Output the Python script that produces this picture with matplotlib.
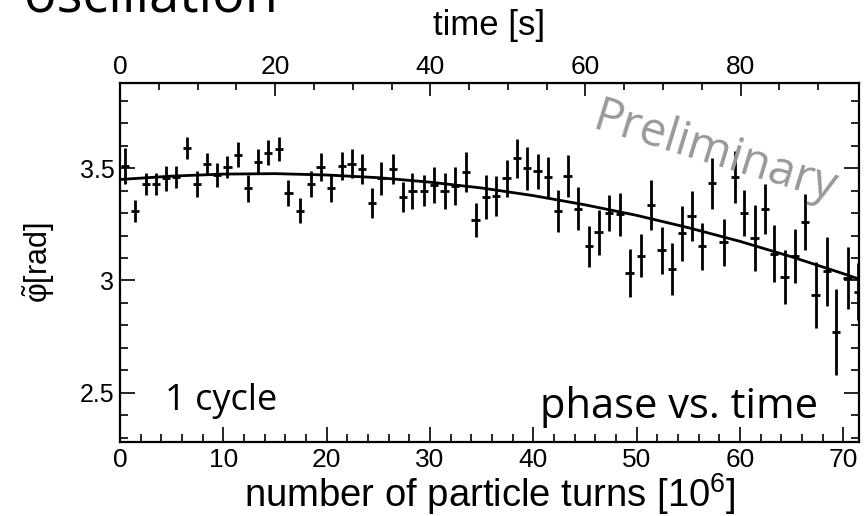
import numpy as np
import matplotlib.pyplot as plt
from matplotlib.ticker import MultipleLocator, FixedLocator, FormatStrFormatter

# measured phase per turn bin (turns in units of 1e6)
turns = [0.5, 1.45, 2.5, 3.5, 4.45, 5.4, 6.5, 7.45, 8.4, 9.4, 10.4, 11.4, 12.4, 13.35,
         14.3, 15.4, 16.3, 17.4, 18.5, 19.4, 20.4, 21.5, 22.4, 23.4, 24.4, 25.3, 26.4,
         27.4, 28.3, 29.4, 30.4, 31.4, 32.4, 33.5, 34.4, 35.4, 36.4, 37.4, 38.4, 39.4,
         40.4, 41.4, 42.4, 43.3, 44.3, 45.4, 46.3, 47.3, 48.4, 49.3, 50.4, 51.4, 52.4,
         53.4, 54.4, 55.3, 56.3, 57.3, 58.4, 59.5, 60.4, 61.4, 62.4, 63.3, 64.3, 65.3,
         66.3, 67.3, 68.4, 69.3, 70.4, 71.4]
phase = [3.51, 3.31, 3.43, 3.43, 3.455, 3.46, 3.59, 3.43, 3.52, 3.47, 3.505, 3.56, 3.41,
         3.53, 3.57, 3.585, 3.39, 3.31, 3.43, 3.505, 3.41, 3.51, 3.52, 3.495, 3.345, 3.455,
         3.495, 3.37, 3.40, 3.40, 3.425, 3.40, 3.42, 3.485, 3.27, 3.37, 3.375, 3.455, 3.545,
         3.50, 3.487, 3.46, 3.31, 3.465, 3.32, 3.153, 3.215, 3.30, 3.295, 3.033, 3.11, 3.335,
         3.135, 3.05, 3.21, 3.287, 3.153, 3.433, 3.17, 3.46, 3.30, 3.19, 3.317, 3.12, 3.016,
         3.11, 3.26, 2.936, 3.04, 2.77, 3.01, 2.95]
phase_err = [0.08, 0.05, 0.05, 0.05, 0.055, 0.05, 0.048, 0.056, 0.05, 0.052, 0.05, 0.055,
             0.059, 0.055, 0.055, 0.054, 0.056, 0.056, 0.057, 0.061, 0.059, 0.063, 0.064,
             0.067, 0.067, 0.074, 0.067, 0.067, 0.08, 0.07, 0.079, 0.08, 0.084, 0.089, 0.077,
             0.098, 0.089, 0.084, 0.087, 0.095, 0.078, 0.089, 0.094, 0.094, 0.096, 0.091, 0.1,
             0.079, 0.096, 0.105, 0.096, 0.111, 0.105, 0.116, 0.124, 0.11, 0.105, 0.113, 0.104,
             0.116, 0.104, 0.148, 0.111, 0.126, 0.121, 0.121, 0.126, 0.148, 0.152, 0.193,
             0.137, 0.127]
turn_halfwidth = 0.4

# fitted curve
fit_turns = [0, 5, 10, 15, 20, 25, 30, 35, 40, 45, 50, 55, 60, 65, 70, 71.5]
fit_phase = [3.450, 3.465, 3.474, 3.476, 3.470, 3.458, 3.438, 3.412, 3.378, 3.337,
             3.290, 3.235, 3.174, 3.105, 3.030, 3.006]

time_ticks = [0, 20, 40, 60, 80]
sec_per_mturn = 1.3323  # seconds per 1e6 turns

plt.rcParams['font.family'] = ['Liberation Sans', 'DejaVu Sans']
plt.rcParams['mathtext.fontset'] = 'custom'
plt.rcParams['mathtext.rm'] = 'Liberation Sans'
plt.rcParams['mathtext.it'] = 'Liberation Sans:italic'

fig = plt.figure(figsize=(8.66, 5.16), dpi=100)
ax = fig.add_axes([120 / 866, 1 - 442 / 516, 739 / 866, 359 / 516])

ax.errorbar(turns, phase, yerr=phase_err, xerr=turn_halfwidth, fmt='none',
            ecolor='black', elinewidth=2.0, capsize=0)
ax.plot(fit_turns, fit_phase, color='black', lw=2.0)

ax.set_xlim(0, 71.5)
ax.set_ylim(2.28, 3.88)

ax.xaxis.set_major_locator(MultipleLocator(10))
ax.xaxis.set_minor_locator(MultipleLocator(2))
ax.yaxis.set_major_locator(MultipleLocator(0.5))
ax.yaxis.set_minor_locator(MultipleLocator(0.1))
ax.yaxis.set_major_formatter(FormatStrFormatter('%g'))
ax.tick_params(which='both', direction='in', top=False, right=True, width=1.2)
ax.tick_params(which='major', length=11)
ax.tick_params(which='minor', length=5.5)
ax.tick_params(axis='x', labelsize=19, pad=4)
ax.tick_params(axis='y', labelsize=18, pad=4)
for s in ax.spines.values():
    s.set_linewidth(1.6)

ax.set_xlabel('number of particle turns [$\\mathrm{10^6}$]', fontsize=27.5, labelpad=0)
ax.set_ylabel(r'$\tilde{\mathrm{\varphi}}$[rad]', fontsize=22, labelpad=16)

top = ax.secondary_xaxis('top', functions=(lambda t: t * sec_per_mturn,
                                           lambda s: s / sec_per_mturn))
top.xaxis.set_major_locator(FixedLocator(time_ticks))
top.xaxis.set_minor_locator(FixedLocator(np.arange(5, 95, 5)))
top.tick_params(which='both', direction='in', width=1.2, labelsize=19, pad=3)
top.tick_params(which='major', length=9)
top.tick_params(which='minor', length=5)
top.set_xlabel('time [s]', fontsize=25, labelpad=14)

# slide annotations
ax.text(0.805, 0.805, 'Preliminary', transform=ax.transAxes, rotation=-17,
        fontsize=34, color='#999999', family='Open Sans', ha='center', va='center')
ax.text(0.061, 0.089, '1 cycle', transform=ax.transAxes, fontsize=26,
        family='Open Sans', color='black', va='baseline')
ax.text(0.568, 0.067, 'phase vs. time', transform=ax.transAxes, fontsize=30,
        family='Open Sans', color='black', va='baseline')
fig.text(0.028, 1 - 12 / 516, 'oscillation', fontsize=39, family='Open Sans',
         va='baseline', ha='left')

fig.savefig('out.png', dpi=100)
